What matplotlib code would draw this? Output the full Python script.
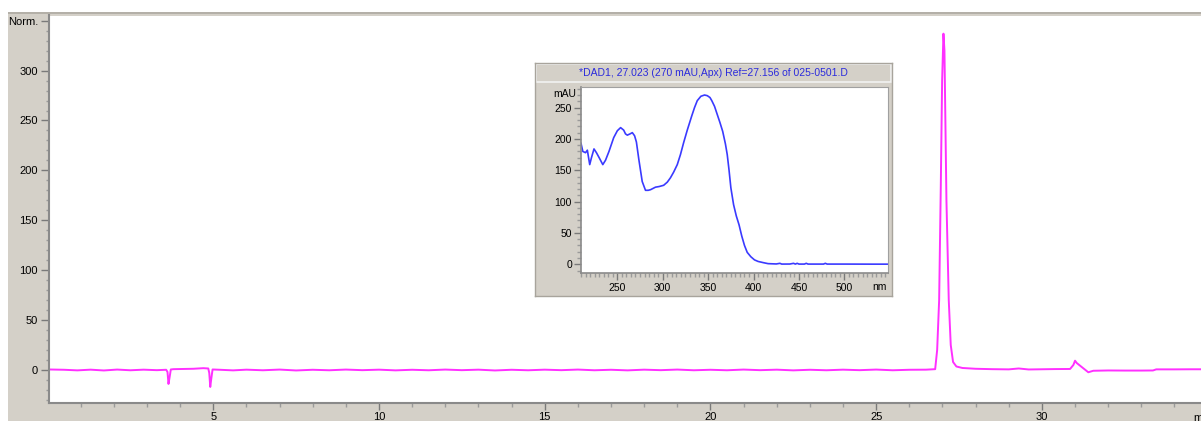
import matplotlib
matplotlib.use("Agg")
import matplotlib.pyplot as plt
from matplotlib.patches import Rectangle
from matplotlib.ticker import MultipleLocator, FixedLocator
import matplotlib.transforms as mtransforms

plt.rcParams['font.family'] = ['Liberation Sans', 'DejaVu Sans']

# chromatogram (min, Norm.)
time = [0.03, 0.5, 0.9, 1.3, 1.7, 2.1, 2.5, 2.9, 3.3, 3.58, 3.62, 3.65, 3.68, 3.72,
        3.8, 4.1, 4.4, 4.7, 4.85, 4.88, 4.91, 4.94, 4.98, 5.2, 5.6, 6.0, 6.5, 7.0,
        7.5, 8.0, 8.5, 9.0, 9.5, 10.0, 10.5, 11.0, 11.5, 12.0, 12.5, 13.0, 13.5,
        14.0, 14.5, 15.0, 15.5, 16.0, 16.5, 17.0, 17.5, 18.0, 18.5, 19.0, 19.5,
        20.0, 20.5, 21.0, 21.5, 22.0, 22.5, 23.0, 23.5, 24.0, 24.5, 25.0, 25.5,
        26.0, 26.5, 26.78, 26.84, 26.90, 26.95, 26.99, 27.03, 27.06, 27.08, 27.12,
        27.19, 27.25, 27.32, 27.42, 27.6, 28.0, 28.5, 29.0, 29.3, 29.6, 30.0, 30.4,
        30.85, 30.95, 31.0, 31.05, 31.2, 31.4, 31.55, 32.0, 32.5, 33.0, 33.35,
        33.45, 34.0, 34.5, 34.85]
signal = [0.5, 0.2, -0.4, 0.3, -0.5, 0.4, -0.3, 0.3, -0.2, 0.2, -2, -14, -8, 0.5,
          0.8, 1.0, 1.2, 1.8, 1.5, -3, -17, -9, 0.5, 0.2, -0.4, 0.3, -0.3, 0.4,
          -0.5, 0.2, -0.3, 0.4, -0.2, 0.3, -0.4, 0.2, -0.3, 0.4, -0.2, 0.3, -0.5,
          0.2, -0.3, 0.3, -0.2, 0.4, -0.3, 0.2, -0.4, 0.3, -0.2, 0.4, -0.3, 0.2,
          -0.3, 0.4, -0.2, 0.3, -0.4, 0.2, -0.3, 0.3, -0.2, 0.4, -0.3, 0.2, 0.3,
          0.8, 20, 70, 185, 290, 337, 320, 270, 170, 70, 25, 8, 3.5, 2, 1.2, 0.8,
          0.6, 1.5, 0.5, 0.7, 0.9, 1.0, 5, 9.3, 7, 3, -2.3, -0.8, -0.5, -0.6,
          -0.6, -0.5, 0.6, 0.6, 0.7, 0.7]

# UV spectrum at apex (nm, mAU)
wavelength = [210, 212, 215, 217, 219.6, 221.5, 224.3, 227, 230, 234, 237, 240.8,
              246, 250, 253.6, 257, 259, 261, 264, 266.5, 269, 271, 273.7, 277.4,
              281, 284, 286.6, 292, 296, 301, 305, 308.5, 312, 316, 319.5, 323, 327,
              332, 335, 338, 342, 346, 349, 352, 354, 357, 360, 363, 366, 369, 371,
              373, 375, 378, 381, 384, 387, 390, 393, 397, 401, 405, 411, 416, 425,
              429, 431, 440, 444, 446, 448, 450, 456, 458, 460, 477, 479, 481, 500,
              530, 548]
absorbance = [193, 180, 178, 182, 159, 170, 184, 178, 170, 159, 166, 180, 202, 213,
              218, 214, 208, 206, 208, 210, 205, 195, 167, 132, 118, 118, 119, 123,
              124, 126, 131, 138, 147, 159, 175, 194, 214, 237, 250, 261, 268, 270,
              269, 266, 261, 252, 239, 226, 212, 192, 175, 150, 122, 95, 77, 63, 45,
              30, 19, 12, 7, 4.5, 2.5, 1, 0.5, 1.5, 0.3, 0.4, 1.5, 0.3, 1.5, 0.3,
              0.3, 1.5, 0.3, 0.3, 1.5, 0.3, 0.3, 0.2, 0.2]

spec_title = '*DAD1, 27.023 (270 mAU,Apx) Ref=27.156 of 025-0501.D'

W, H = 1201, 421
grey = '#d4d0c8'
tick_col = '#7a7a7a'


def box(x0, y0, x1, y1):
    # pixel box -> figure rect
    return [x0 / W, 1 - y1 / H, (x1 - x0) / W, (y1 - y0) / H]


fig = plt.figure(figsize=(W / 100, H / 100), dpi=100, facecolor='white')
fig.patches.append(Rectangle((8 / W, 0), 1 - 8 / W, 1 - 12 / H, transform=fig.transFigure,
                             facecolor=grey, edgecolor='none', zorder=-5))
fig.patches.append(Rectangle((8 / W, 1 - 14 / H), 1 - 8 / W, 2 / H, transform=fig.transFigure,
                             facecolor='#b4b0a8', edgecolor='none', zorder=-4))

# main chromatogram
ax = fig.add_axes(box(48.5, 15.5, 1201, 402.5))
ax.set_facecolor('white')
ax.plot(time, signal, color='#ff30ff', linewidth=1.4, solid_joinstyle='round')
ax.set_xlim(0.03, 34.8)
ax.set_ylim(-32.6, 355.2)
for s in ['top', 'right']:
    ax.spines[s].set_visible(False)
for s in ['left', 'bottom']:
    ax.spines[s].set_color('#8a8a8a')
    ax.spines[s].set_linewidth(1.5)
ax.xaxis.set_major_locator(FixedLocator([5, 10, 15, 20, 25, 30]))
ax.xaxis.set_minor_locator(MultipleLocator(1))
ax.yaxis.set_major_locator(FixedLocator([0, 50, 100, 150, 200, 250, 300, 350]))
ax.yaxis.set_minor_locator(MultipleLocator(10))
ax.set_yticklabels(['0', '50', '100', '150', '200', '250', '300', 'Norm.'])
ax.tick_params(axis='y', which='major', length=6, width=1, color=tick_col, labelsize=8, pad=1.5)
ax.tick_params(axis='y', which='minor', length=2.5, width=1, color='#9a9a9a')
ax.tick_params(axis='x', which='major', length=5, width=1, color=tick_col, labelsize=8, pad=2)
ax.tick_params(axis='x', which='minor', length=3, width=1, color='#9a9a9a')
trans = mtransforms.blended_transform_factory(ax.transData, ax.transAxes)
ax.text(34.56, -0.027, 'min', transform=trans, fontsize=8, ha='left', va='top')

# spectrum window
panel = fig.add_axes(box(535, 63, 892, 296), zorder=5)
panel.set_xticks([])
panel.set_yticks([])
panel.set_facecolor(grey)
for s in panel.spines.values():
    s.set_color('#a8a49c')
    s.set_linewidth(1)
panel.add_patch(Rectangle((0.003, 1 - 19 / 233), 0.994, 18 / 233, transform=panel.transAxes,
                          facecolor=grey, edgecolor='#f2f2f2', linewidth=1.2))
panel.text(0.5, 1 - 9.5 / 233, spec_title, transform=panel.transAxes, ha='center', va='center',
           fontsize=7.5, color='#2b2bdc')

ins = fig.add_axes(box(581, 87.5, 888, 273.3), zorder=6)
ins.set_facecolor('white')
ins.plot(wavelength, absorbance, color='#3a3aff', linewidth=1.2, solid_joinstyle='round')
ins.set_xlim(210, 548)
ins.set_ylim(-14.4, 282)
for s in ['top', 'right']:
    ins.spines[s].set_color('#a0a0a0')
for s in ['left', 'bottom']:
    ins.spines[s].set_color('#8a8a8a')
    ins.spines[s].set_linewidth(1.2)
ins.xaxis.set_major_locator(FixedLocator([250, 300, 350, 400, 450, 500]))
ins.xaxis.set_minor_locator(MultipleLocator(5))
ins.yaxis.set_major_locator(FixedLocator([0, 50, 100, 150, 200, 250]))
ins.yaxis.set_minor_locator(MultipleLocator(10))
ins.tick_params(which='major', length=5, width=1, color=tick_col, labelsize=7.5, pad=1.5)
ins.tick_params(which='minor', length=3, width=1, color='#9a9a9a')
ins.tick_params(axis='x', which='major', pad=2)
ins.text(-0.015, 272, 'mAU', transform=mtransforms.blended_transform_factory(ins.transAxes, ins.transData),
         ha='right', va='center', fontsize=7.5)
ins.text(0.995, -0.045, 'nm', transform=ins.transAxes, ha='right', va='top', fontsize=7.5)

fig.savefig('out.png', dpi=100, facecolor='white')
